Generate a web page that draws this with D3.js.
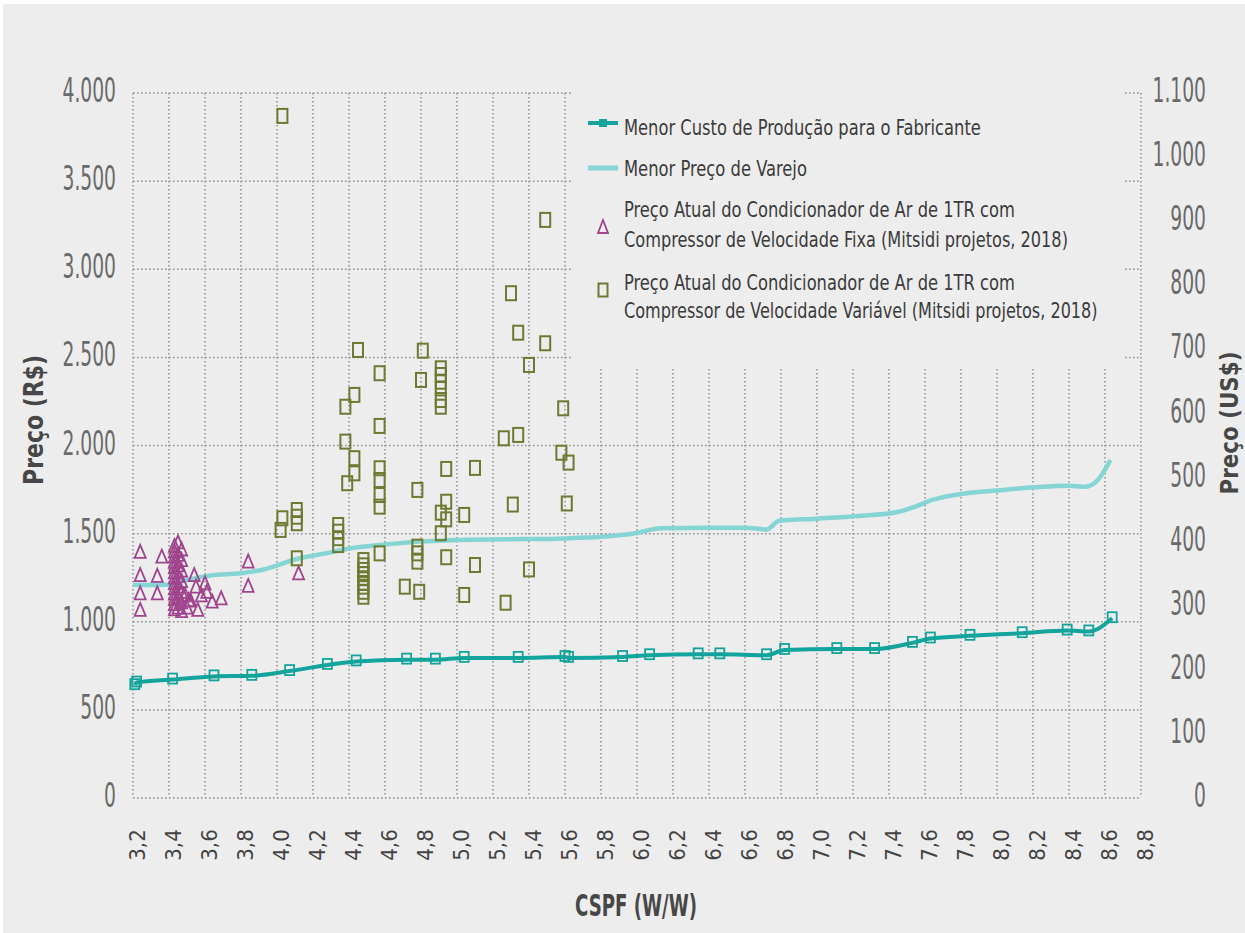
<!DOCTYPE html>
<html>
<head>
<meta charset="utf-8">
<script src="https://cdn.jsdelivr.net/npm/d3@7"></script>
<style>
  body { margin: 0; background: #fff; }
  text { font-family: "Liberation Sans Narrow", "DejaVu Sans Condensed", sans-serif; }
</style>
</head>
<body>
<svg id="chart" width="1245" height="933"></svg>
<script>
// ticks
const xTickValues = [3.2, 3.4, 3.6, 3.8, 4.0, 4.2, 4.4, 4.6, 4.8, 5.0, 5.2, 5.4, 5.6, 5.8, 6.0,
  6.2, 6.4, 6.6, 6.8, 7.0, 7.2, 7.4, 7.6, 7.8, 8.0, 8.2, 8.4, 8.6, 8.8]
const leftTicks = [0, 500, 1000, 1500, 2000, 2500, 3000, 3500, 4000]
const rightTicks = [0, 100, 200, 300, 400, 500, 600, 700, 800, 900, 1000, 1100]

// Menor Custo de Produção para o Fabricante
const costX = [3.21, 3.22, 3.42, 3.65, 3.86, 4.07, 4.28, 4.44, 4.72, 4.88, 5.04, 5.34, 5.6, 5.62,
  5.92, 6.07, 6.34, 6.46, 6.72, 6.82, 7.11, 7.32, 7.53, 7.63, 7.85, 8.14, 8.39, 8.51, 8.64]
const costY = [640, 655, 672, 690, 693, 720, 755, 775, 785, 785, 795, 795, 800, 795,
  800, 810, 815, 815, 810, 840, 845, 845, 880, 905, 920, 935, 950, 945, 1020]

// Menor Preço de Varejo
const retailX = [3.2, 3.4, 3.5, 3.63, 3.8, 3.92, 4.11, 4.29, 4.41, 4.57, 4.8, 5.0, 5.3, 5.6, 5.8,
  5.99, 6.13, 6.4, 6.6, 6.72, 6.79, 7.0, 7.23, 7.44, 7.55, 7.64, 7.83, 8.0, 8.21, 8.4, 8.49, 8.56, 8.63]
const retailY = [1208, 1210, 1237, 1262, 1275, 1295, 1356, 1392, 1417, 1435, 1455, 1464, 1468, 1473, 1482,
  1502, 1531, 1533, 1533, 1524, 1573, 1585, 1600, 1621, 1655, 1691, 1729, 1745, 1763, 1772, 1766, 1804, 1918]

// Compressor de velocidade fixa
const fixedX = [3.24, 3.24, 3.24, 3.24, 3.36, 3.335, 3.335,
  3.43, 3.43, 3.43, 3.43, 3.43, 3.43, 3.43, 3.43, 3.43, 3.43, 3.43, 3.43, 3.43,
  3.45, 3.45, 3.45, 3.45, 3.45, 3.45, 3.45,
  3.47, 3.47, 3.47, 3.47, 3.47, 3.47, 3.47,
  3.49, 3.50, 3.52, 3.51, 3.54, 3.55, 3.56, 3.58, 3.60, 3.61, 3.64, 3.69, 3.84, 3.84, 4.12]
const fixedY = [1397, 1265, 1161, 1067, 1369, 1260, 1161,
  1430, 1400, 1370, 1340, 1310, 1280, 1250, 1220, 1190, 1160, 1130, 1100, 1070,
  1450, 1380, 1320, 1260, 1200, 1140, 1080,
  1410, 1350, 1290, 1230, 1170, 1110, 1060,
  1150, 1080, 1120, 1123, 1265, 1199, 1067, 1150, 1218, 1170, 1114, 1133, 1341, 1203, 1275]

// Compressor de velocidade variável
const variableX = [4.03, 5.49, 5.30, 5.34, 5.49, 4.45, 4.81, 5.40, 4.91, 4.91, 4.57, 4.80, 4.91, 4.91,
  4.43, 4.91, 4.38, 4.91, 5.59, 4.57, 5.34, 5.26, 4.38, 5.58, 4.43, 5.62, 4.94, 5.10, 4.57, 4.43,
  4.57, 4.39, 4.78, 4.57, 4.94, 5.31, 5.61, 4.57, 4.11, 4.91, 5.04, 4.11, 4.03, 4.94, 4.11, 4.34,
  4.02, 4.34, 4.91, 4.34, 4.34, 4.78, 4.57, 4.78, 4.94, 4.11, 4.48, 4.78, 5.10, 4.48, 5.40, 4.48,
  4.48, 4.48, 4.48, 4.48, 4.71, 4.79, 4.48, 5.04, 4.48, 5.27]
const variableY = [3870, 3280, 2864, 2640, 2580, 2542, 2538, 2457, 2438, 2400, 2410, 2372, 2362, 2324,
  2287, 2258, 2220, 2220, 2211, 2111, 2060, 2041, 2022, 1959, 1928, 1903, 1867, 1873, 1871, 1842,
  1804, 1786, 1748, 1719, 1681, 1665, 1671, 1653, 1634, 1619, 1606, 1596, 1587, 1581, 1559, 1549,
  1521, 1511, 1502, 1474, 1435, 1426, 1388, 1388, 1366, 1360, 1350, 1341, 1322, 1320, 1297, 1294,
  1270, 1247, 1220, 1199, 1199, 1170, 1170, 1152, 1142, 1108]

const legendLabels = [
  ['Menor Custo de Produção para o Fabricante'],
  ['Menor Preço de Varejo'],
  ['Preço Atual do Condicionador de Ar de 1TR com', 'Compressor de Velocidade Fixa (Mitsidi projetos, 2018)'],
  ['Preço Atual do Condicionador de Ar de 1TR com', 'Compressor de Velocidade Variável (Mitsidi projetos, 2018)']
]

const colors = {
  bg: '#ededed',
  grid: '#8f8f8f',
  cost: '#13a49c',
  retail: '#84d5d3',
  fixed: '#a0448e',
  variable: '#6c7a32',
  tick: '#6a6a6a',
  title: '#474747',
  legend: '#3b3b3b'
}

const ptBR = d3.formatLocale({ decimal: ',', thousands: '.', grouping: [3], currency: ['R$', ''] })
const fmtInt = ptBR.format(',')
const fmtDec = ptBR.format('.1f')

const svg = d3.select('#chart')

const x = d3.scaleLinear().domain([3.2, 8.8]).range([133, 1141])
const yL = d3.scaleLinear().domain([0, 4000]).range([798, 93])
const yR = d3.scaleLinear().domain([0, 1100]).range([798, 93])

// squeeze a text horizontally to a given width (the original font is condensed)
function squeeze (text, width, tx, ty, rotate) {
  const len = text.node().getComputedTextLength()
  const k = Math.min(1, width / len)
  text.attr('transform', `translate(${tx},${ty})` + (rotate ? ` rotate(${rotate})` : '') + ` scale(${k},1)`)
}

svg.append('rect')
  .attr('x', 3).attr('y', 4).attr('width', 1242).attr('height', 929)
  .attr('fill', colors.bg)

// grid
const grid = svg.append('g')
  .attr('stroke', colors.grid)
  .attr('stroke-width', 1.5)
  .attr('stroke-dasharray', '1.6,2.4')

grid.selectAll('line.v')
  .data(xTickValues)
  .join('line')
  .attr('class', 'v')
  .attr('x1', d => x(d)).attr('x2', d => x(d))
  .attr('y1', yL(4000)).attr('y2', yL(0) - 2)

grid.selectAll('line.h')
  .data(leftTicks)
  .join('line')
  .attr('class', 'h')
  .attr('x1', x(3.2)).attr('x2', x(8.8))
  .attr('y1', d => yL(d)).attr('y2', d => yL(d))

// legend background hides the grid under it
svg.append('rect')
  .attr('x', 573).attr('y', 86).attr('width', 550).attr('height', 282)
  .attr('fill', colors.bg)

// axes labels
const leftAxis = svg.append('g')
  .attr('transform', 'translate(116,-2)')
  .call(d3.axisLeft(yL).tickValues(leftTicks).tickFormat(fmtInt).tickSize(0).tickPadding(0))
const rightAxis = svg.append('g')
  .attr('transform', 'translate(1206,-2)')
  .call(d3.axisLeft(yR).tickValues(rightTicks).tickFormat(fmtInt).tickSize(0).tickPadding(0))

;[leftAxis, rightAxis].forEach(a => {
  a.select('.domain').remove()
  a.selectAll('text')
    .attr('font-family', '"DejaVu Sans Condensed", sans-serif')
    .attr('font-size', 33)
    .attr('fill', colors.tick)
    .attr('transform', 'scale(0.63,1)')
})

const bottomAxis = svg.append('g')
  .attr('transform', 'translate(0,845)')
  .call(d3.axisBottom(x).tickValues(xTickValues).tickFormat(fmtDec).tickSize(0))
bottomAxis.select('.domain').remove()
bottomAxis.selectAll('text')
  .attr('x', 0).attr('y', 0).attr('dy', '0.35em')
  .attr('text-anchor', 'middle')
  .attr('transform', 'translate(4,0) rotate(-90)')
  .attr('font-family', '"DejaVu Sans", sans-serif')
  .attr('font-size', 22)
  .attr('fill', '#444')

// axis titles
const titleL = svg.append('text')
  .attr('text-anchor', 'middle')
  .attr('font-size', 26).attr('font-weight', 'bold')
  .attr('fill', colors.title)
  .text('Preço (R$)')
squeeze(titleL, 130, 43, 420, -90)

const titleR = svg.append('text')
  .attr('text-anchor', 'middle')
  .attr('font-size', 25).attr('font-weight', 'bold')
  .attr('fill', colors.title)
  .text('Preço (US$)')
squeeze(titleR, 143, 1238, 423, -90)

const titleX = svg.append('text')
  .attr('text-anchor', 'middle')
  .attr('font-size', 30).attr('font-weight', 'bold')
  .attr('fill', colors.title)
  .text('CSPF (W/W)')
squeeze(titleX, 122, 636, 916)

// series
const retailData = retailX.map((d, i) => [d, retailY[i]])
const costData = costX.map((d, i) => [d, costY[i]])
const fixedData = fixedX.map((d, i) => [d, fixedY[i]])
const variableData = variableX.map((d, i) => [d, variableY[i]])

const line = d3.line()
  .x(d => x(d[0]))
  .y(d => yL(d[1]))
  .curve(d3.curveMonotoneX)

svg.append('path')
  .datum(retailData)
  .attr('d', line)
  .attr('fill', 'none')
  .attr('stroke', colors.retail)
  .attr('stroke-width', 4.5)
  .attr('stroke-linejoin', 'round')

svg.append('path')
  .datum(costData)
  .attr('d', line)
  .attr('fill', 'none')
  .attr('stroke', colors.cost)
  .attr('stroke-width', 4)
  .attr('stroke-linejoin', 'round')

svg.append('g')
  .selectAll('rect')
  .data(costData)
  .join('rect')
  .attr('x', d => x(d[0]) - 4.5)
  .attr('y', d => yL(d[1]) - 6)
  .attr('width', 9).attr('height', 10)
  .attr('fill', 'none')
  .attr('stroke', colors.cost)
  .attr('stroke-width', 1.8)

const triPath = 'M0,-7L5.5,6L-5.5,6Z'

svg.append('g')
  .selectAll('path')
  .data(fixedData)
  .join('path')
  .attr('d', triPath)
  .attr('transform', d => `translate(${x(d[0])},${yL(d[1])})`)
  .attr('fill', 'none')
  .attr('stroke', colors.fixed)
  .attr('stroke-width', 1.8)

svg.append('g')
  .selectAll('rect')
  .data(variableData)
  .join('rect')
  .attr('x', d => x(d[0]) - 5)
  .attr('y', d => yL(d[1]) - 7)
  .attr('width', 10).attr('height', 14)
  .attr('fill', 'none')
  .attr('stroke', colors.variable)
  .attr('stroke-width', 2)

// legend
const legend = svg.append('g')

legend.append('line')
  .attr('x1', 588).attr('x2', 618).attr('y1', 123).attr('y2', 123)
  .attr('stroke', colors.cost).attr('stroke-width', 4)
legend.append('rect')
  .attr('x', 599).attr('y', 119).attr('width', 8).attr('height', 8)
  .attr('fill', colors.cost)

legend.append('line')
  .attr('x1', 588).attr('x2', 618).attr('y1', 168).attr('y2', 168)
  .attr('stroke', colors.retail).attr('stroke-width', 5)

legend.append('path')
  .attr('d', 'M0,-7L5,6L-5,6Z')
  .attr('transform', 'translate(603,227)')
  .attr('fill', 'none').attr('stroke', colors.fixed).attr('stroke-width', 1.8)

legend.append('rect')
  .attr('x', 598.5).attr('y', 283.5).attr('width', 9).attr('height', 13)
  .attr('fill', 'none').attr('stroke', colors.variable).attr('stroke-width', 2)

const legendRows = [
  { text: legendLabels[0][0], y: 135, w: 357 },
  { text: legendLabels[1][0], y: 176, w: 183 },
  { text: legendLabels[2][0], y: 217, w: 391 },
  { text: legendLabels[2][1], y: 247, w: 444 },
  { text: legendLabels[3][0], y: 290, w: 391 },
  { text: legendLabels[3][1], y: 318, w: 474 }
]

legend.selectAll('text')
  .data(legendRows)
  .join('text')
  .attr('font-size', 22)
  .attr('fill', colors.legend)
  .text(d => d.text)
  .each(function (d) {
    squeeze(d3.select(this), d.w, 624, d.y)
  })
</script>
</body>
</html>
